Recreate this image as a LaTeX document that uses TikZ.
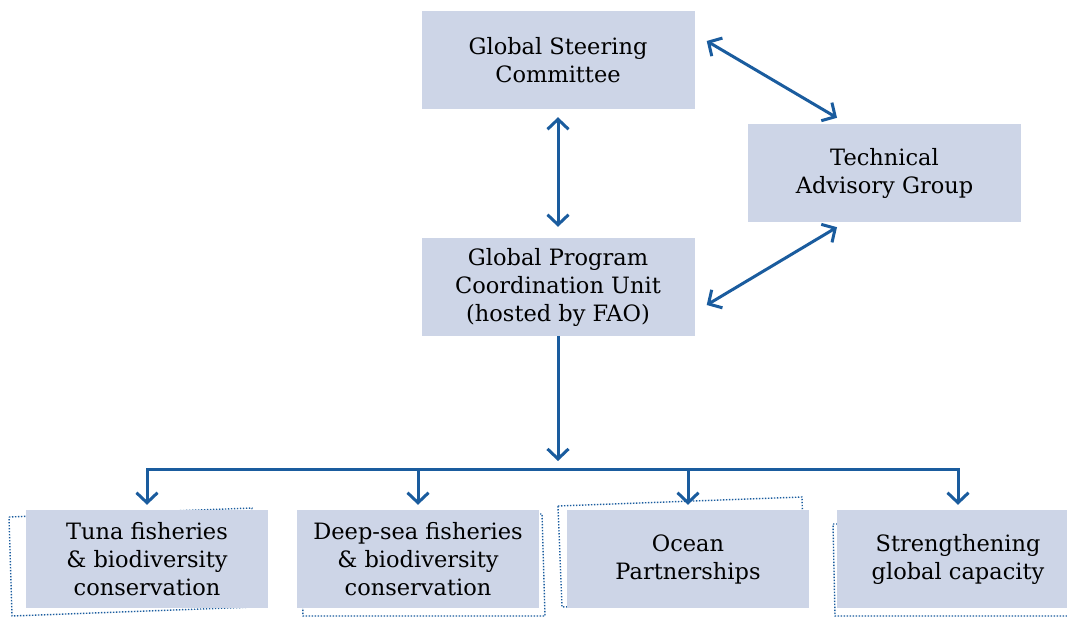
\documentclass[tikz,border=0pt]{standalone}
\usepackage{fontspec}
\setmainfont{DejaVu Serif}
\usetikzlibrary{arrows.meta}
\definecolor{fblue}{RGB}{26,92,158}
\definecolor{boxfill}{RGB}{205,213,231}
\tikzset{
  unitbox/.style={fill=boxfill, minimum width=273pt, minimum height=98pt,
    inner sep=0pt, align=center, font=\fontsize{22.5}{28}\selectfont},
  areabox/.style={unitbox, minimum width=242pt},
  link/.style={draw=fblue, line width=3pt},
  onearrow/.style={-{Straight Barb[length=10pt,width=21pt]}},
  twoarrow/.style={{Straight Barb[length=10pt,width=21pt]}-{Straight Barb[length=10pt,width=21pt]}},
  halo/.style={draw=fblue, line width=1.4pt, dash pattern=on 1.4pt off 1.6pt},
}
\begin{document}
\begin{tikzpicture}[x=1pt,y=-1pt]
      \clip (0,0) rectangle (1067,617);
      % dotted frames behind the work areas
      \draw[halo] (9,517) -- (252,508) -- (255,607) -- (12,616) -- cycle;
      \draw[halo] (300,514) -- (542,514) -- (545,616) -- (303,616) -- cycle;
      \draw[halo] (558,506) -- (802,497) -- (805,597) -- (562,607) -- cycle;
      \draw[halo] (833,524) -- (1080,524) -- (1082,616) -- (835,616) -- cycle;
      \draw
        (558,60) node[unitbox] (gsc){Global Steering\\Committee}
        (884.5,173) node[unitbox] (tag){Technical\\Advisory Group}
        (558,287) node[unitbox] (gpcu){Global Program\\Coordination Unit\\(hosted by FAO)}
        (147,559) node[areabox] (tuna){Tuna fisheries\\\& biodiversity\\conservation}
        (418,559) node[areabox] (deep){Deep-sea fisheries\\\& biodiversity\\conservation}
        (688,559) node[areabox] (ocean){Ocean\\Partnerships}
        (958,559) node[areabox] (strength){Strengthening\\global capacity};
      \coordinate (hub) at (558,469);
      \begin{scope}[link]
        \draw[twoarrow, shorten <=8pt, shorten >=11pt] (gsc) to (gpcu);
        \draw[twoarrow] ([shift={(12,-19)}]gsc.east) to ([shift={(-47.5,-6)}]tag.north);
        \draw[twoarrow] ([shift={(12,18)}]gpcu.east) to ([shift={(-47.5,5)}]tag.south);
        \draw[onearrow, shorten >=8pt] (gpcu) to (hub);
        \draw[line cap=rect] (hub -| tuna) to (hub -| strength);
        \foreach \n in {tuna,deep,ocean,strength}
          \draw[onearrow] (hub -| \n) to ([yshift=5pt]\n.north);
      \end{scope}
    \end{tikzpicture}
\end{document}
